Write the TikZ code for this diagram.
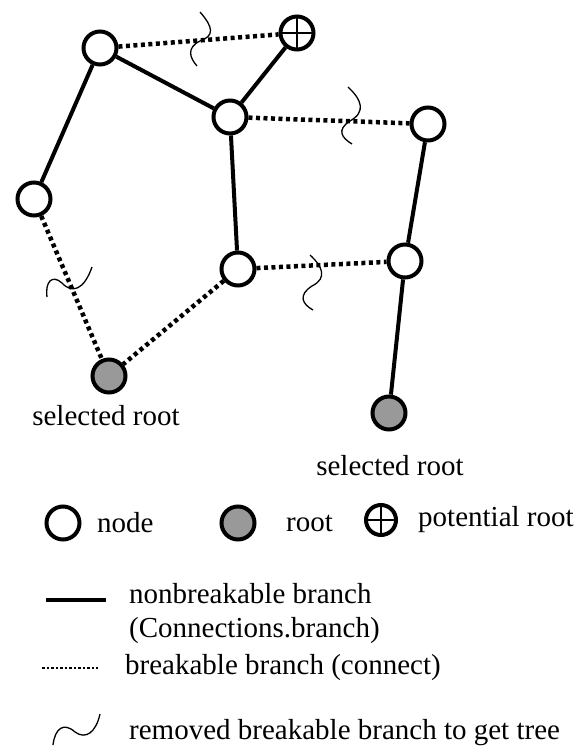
\documentclass[tikz,border=0pt]{standalone}
\usepackage{fontspec}
\setmainfont{Liberation Serif}
\usetikzlibrary{positioning}

\tikzset{
  nd/.style={circle,draw,line width=4pt,minimum size=33pt,inner sep=0pt,fill=white},
  rootnd/.style={nd,fill=black!40},
  potnd/.style={nd,path picture={
      \draw[line width=1.5pt] (path picture bounding box.north) -- (path picture bounding box.south)
            (path picture bounding box.west) -- (path picture bounding box.east);}},
  fixed/.style={line width=4pt},
  breakable/.style={line width=4.5pt,dash pattern=on 4pt off 3.5pt},
  cut/.style={line width=1.3pt},
  lbl/.style={font=\fontsize{29}{34}\selectfont,inner sep=0pt}
}

\begin{document}
\begin{tikzpicture}[x=1pt,y=-1pt]
    \useasboundingbox (0,0) rectangle (587,747);
    % network
    \node[nd] (n_a) at (100,48) {};
    \node[potnd] (n_p) at (297,33) {};
    \node[nd] (n_b) at (230,117) {};
    \node[nd] (n_c) at (428,124) {};
    \node[nd] (n_d) at (34,199) {};
    \node[nd] (n_e) at (238,269) {};
    \node[nd] (n_f) at (405,261) {};
    \node[rootnd] (r_1) at (109,376) {};
    \node[rootnd] (r_2) at (389,413) {};
    \node[lbl] (l_1) at (106,416) {selected root};
    \node[lbl] (l_2) at (390,466) {selected root};

    \path[fixed]
    (n_a) edge (n_b)
          edge (n_d)
    (n_p) edge (n_b)
    (n_b) edge (n_e)
    (n_c) edge (n_f)
    (n_f) edge (r_2);
    \path[breakable]
    (n_a) edge (n_p)
    (n_b) edge (n_c)
    (n_e) edge (n_f)
          edge (r_1)
    (n_d) edge (r_1);

    % removed branches
    \draw[cut] (200,12) .. controls (214,28) and (214,36) .. (200,41) .. controls (186,48) and (190,58) .. (197,66);
    \draw[cut] (348,87) .. controls (362,100) and (366,112) .. (350,121) .. controls (336,130) and (342,138) .. (352,144);
    \draw[cut] (310,255) .. controls (322,266) and (328,278) .. (312,286) .. controls (298,295) and (302,304) .. (313,310);
    \draw[cut] (47,297) .. controls (45,282) and (52,274) .. (62,283) .. controls (72,294) and (84,290) .. (92,267);

    % legend
    \node[nd] (k_n) at (63,523) {};
    \node[lbl,anchor=west] (t_n) at (97,523) {node};
    \node[rootnd] (k_r) at (238,523) {};
    \node[lbl,anchor=west] (t_r) at (286,523) {root};
    \node[potnd,minimum size=30pt] (k_p) at (381,520) {};
    \node[lbl,right=20pt of k_p] (t_p) {potential root};

    \coordinate (f_1) at (46,600);
    \coordinate (f_2) at (106,600);
    \draw[fixed] (f_1) -- (f_2);
    \node[lbl,anchor=north west,align=left] (t_f) at (129,583) {nonbreakable branch\\(Connections.branch)};

    \coordinate (b_1) at (42,668);
    \coordinate (b_2) at (98,668);
    \draw[line width=2.5pt,dash pattern=on 2.5pt off 2pt] (b_1) -- (b_2);
    \node[lbl,anchor=west] (t_b) at (125,668) {breakable branch (connect)};

    \draw[cut] (53,745) .. controls (55,728) and (64,722) .. (75,732) .. controls (86,740) and (96,732) .. (100,714);
    \node[lbl,anchor=west] (t_c) at (129,733) {removed breakable branch to get tree};
\end{tikzpicture}
\end{document}
